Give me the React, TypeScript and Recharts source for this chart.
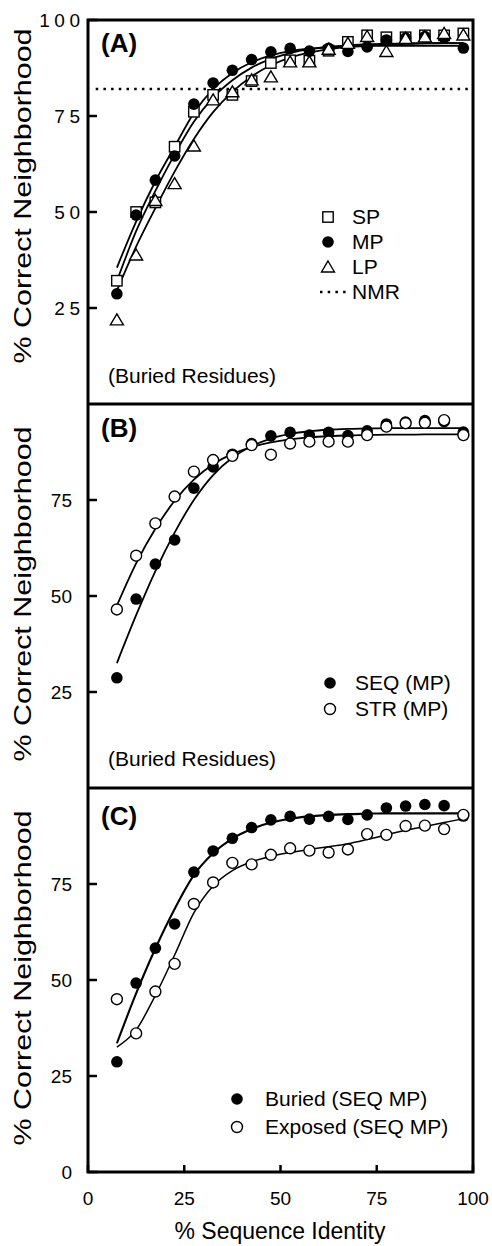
import { ComposedChart, Line, ReferenceArea, ReferenceLine, Scatter, XAxis, YAxis } from 'recharts';

// % sequence identity bins (x of every point)
const identity = [7.5, 12.5, 17.5, 22.5, 27.5, 32.5, 37.5, 42.5, 47.5, 52.5, 57.5, 62.5, 67.5, 72.5, 77.5, 82.5, 87.5, 92.5, 97.5];

// (A) buried residues
const spValues = [32.1, 50.0, 52.5, 67.0, 76.1, 80.5, 80.5, 84.1, 88.8, 89.5, 89.4, 92.0, 94.3, 96.0, 95.5, 95.5, 96.0, 96.0, 96.5];
const mpValues = [28.7, 49.2, 58.3, 64.6, 78.1, 83.6, 86.9, 89.7, 91.7, 92.6, 91.9, 92.6, 91.8, 93.0, 94.8, 95.3, 95.7, 95.4, 92.7];
const lpValues = [21.9, 38.8, 53.0, 57.4, 67.2, 79.2, 81.3, 84.4, 85.2, 89.1, 89.1, 92.4, 93.9, 95.7, 91.8, 95.2, 95.6, 96.5, 96.1];
const nmrLevel = 82;
const spFit = [32, 45, 55.5, 65, 73.5, 79.8, 84.3, 87.6, 89.9, 91.4, 92.4, 93.0, 93.4, 93.7, 93.8, 93.9, 94.0, 94.0, 94.0];
const mpFit = [35.5, 47.5, 58, 67, 75.8, 82, 86.2, 89, 90.8, 91.9, 92.5, 92.9, 93.1, 93.2, 93.3, 93.3, 93.3, 93.3, 93.3];
const lpFit = [29.5, 41, 51, 60.5, 69, 76, 81.3, 85.3, 88.2, 90.2, 91.5, 92.4, 93.0, 93.4, 93.6, 93.8, 93.9, 94.0, 94.0];

// (B) sequence vs structure alignments
const strValues = [46.5, 60.5, 68.9, 75.9, 82.4, 85.4, 86.5, 89.3, 86.8, 89.7, 90.2, 90.2, 90.2, 91.9, 94.1, 95.0, 95.1, 95.8, 91.9];
const seqFit = [32.5, 45, 56.5, 66.5, 75, 81.5, 86, 89, 91, 92.2, 92.9, 93.3, 93.5, 93.6, 93.7, 93.7, 93.7, 93.7, 93.7];
const strFit = [47.5, 58.5, 67.5, 74.8, 80.3, 84.3, 87.0, 88.8, 90.0, 90.8, 91.3, 91.6, 91.8, 91.9, 92.0, 92.0, 92.1, 92.1, 92.1];

// (C) buried vs exposed
const exposedValues = [45.0, 36.1, 47.0, 54.2, 69.8, 75.4, 80.5, 80.1, 82.6, 84.3, 83.7, 83.2, 84.0, 88.0, 87.8, 90.1, 90.2, 89.3, 93.0];
const buriedFit = [33.5, 46.5, 58.2, 68.5, 77.3, 83, 86.8, 89.3, 91, 92, 92.6, 93, 93.2, 93.3, 93.4, 93.4, 93.4, 93.4, 93.4];
const exposedFit = [32.5, 37, 46, 56.5, 67.5, 74.5, 78.5, 80.8, 82.2, 83.2, 84, 84.7, 85.5, 86.6, 87.8, 89, 90, 91, 92];

const xTicks = [0, 25, 50, 75, 100];
const yTicksA = [25, 50, 75, 100];
const yTicksB = [25, 50, 75];
const yTicksC = [0, 25, 50, 75];

const pts = (ys: number[]) => identity.map((x, i) => ({ x, y: ys[i] }));

const FONT = 'Liberation Sans, Arial, sans-serif';

const FilledDot = (p: any) => <circle cx={p.cx} cy={p.cy} r={5.8} fill='#000' />;
const OpenDot = (p: any) => <circle cx={p.cx} cy={p.cy} r={5.5} fill='#fff' stroke='#000' strokeWidth={1.4} />;
const Square = (p: any) => (
  <rect x={p.cx - 5.2} y={p.cy - 5.2} width={10.4} height={10.4} fill='#fff' stroke='#000' strokeWidth={1.4} />
);
const Triangle = (p: any) => (
  <path d={`M${p.cx},${p.cy - 6} L${p.cx + 6.5},${p.cy + 5} L${p.cx - 6.5},${p.cy + 5} Z`} fill='#fff' stroke='#000' strokeWidth={1.4} />
);

const xTick = (labels: boolean) => (p: any) => (
  <g>
    <line x1={p.x} x2={p.x} y1={p.y} y2={p.y - 7} stroke='#000' strokeWidth={2.5} />
    {labels && (
      <text x={p.x} y={p.y + 33} textAnchor='middle' fontSize={19} fill='#000' fontFamily={FONT}>
        {p.payload.value}
      </text>
    )}
  </g>
);

const yTick = (spaced: boolean) => (p: any) => (
  <g>
    <line x1={p.x} x2={p.x + 9} y1={p.y} y2={p.y} stroke='#000' strokeWidth={2.5} />
    <text
      x={spaced ? p.x - 3.5 : p.x - 16}
      y={p.y}
      dy='0.35em'
      textAnchor='end'
      fontSize={19}
      letterSpacing={spaced ? 4.5 : 0}
      fill='#000'
      fontFamily={FONT}
    >
      {p.payload.value}
    </text>
  </g>
);

const axes = (yTicks: number[], spaced: boolean, xLabels: boolean, xHeight: number) => [
  <XAxis
    key='x'
    type='number'
    dataKey='x'
    domain={[0, 100]}
    ticks={xTicks}
    interval={0}
    height={xHeight}
    axisLine={false}
    tickLine={false}
    tickSize={0}
    tickMargin={0}
    tick={xTick(xLabels)}
  />,
  <YAxis
    key='y'
    type='number'
    dataKey='y'
    domain={[0, 100]}
    ticks={yTicks}
    interval={0}
    width={88}
    axisLine={false}
    tickLine={false}
    tickSize={0}
    tickMargin={0}
    tick={yTick(spaced)}
  />,
  <ReferenceArea key='frame' x1={0} x2={100} y1={0} y2={100} fill='none' fillOpacity={0} stroke='#000' strokeWidth={3} />,
];

const fit = (key: string, ys: number[], w = 1.8) => (
  <Line
    key={key}
    data={pts(ys)}
    dataKey='y'
    type='monotone'
    stroke='#000'
    strokeWidth={w}
    dot={false}
    activeDot={false}
    isAnimationActive={false}
  />
);

const yTitle = (cy: number) => (
  <text
    x={31}
    y={cy}
    transform={`rotate(-90, 31, ${cy})`}
    textAnchor='middle'
    fontSize={24}
    textLength={335}
    lengthAdjust='spacingAndGlyphs'
    fill='#000'
    fontFamily={FONT}
  >
    % Correct Neighborhood
  </text>
);

const panelTag = (label: string, y: number) => (
  <text x={101} y={y} fontSize={26} fontWeight='bold' fill='#000' fontFamily={FONT}>
    {label}
  </text>
);

const note = (y: number) => (
  <text x={108} y={y} fontSize={21} fill='#000' fontFamily={FONT}>
    (Buried Residues)
  </text>
);

const legendRow = (marker: any, label: string, mx: number, tx: number, y: number) => (
  <g key={label}>
    {marker({ cx: mx, cy: y })}
    <text x={tx} y={y} dy='0.35em' fontSize={21} fill='#000' fontFamily={FONT}>
      {label}
    </text>
  </g>
);

const App = () => (
  <div style={{ position: 'fixed', left: 0, top: 0, width: 492, height: 1246, background: '#fff', fontFamily: FONT }}>
    <div style={{ position: 'absolute', left: 0, top: 0 }}>
      <ComposedChart width={492} height={404} margin={{ top: 20, right: 19, bottom: 0, left: 0 }} style={{ overflow: 'visible' }}>
        {axes(yTicksA, true, false, 0)}
        <ReferenceLine
          segment={[{ x: 2, y: nmrLevel }, { x: 99, y: nmrLevel }]}
          stroke='#000'
          strokeWidth={2.5}
          strokeDasharray='2.5 5.2'
        />
        {fit('spFit', spFit)}
        {fit('mpFit', mpFit)}
        {fit('lpFit', lpFit)}
        <Scatter data={pts(spValues)} dataKey='y' shape={Square} isAnimationActive={false} />
        <Scatter data={pts(mpValues)} dataKey='y' shape={FilledDot} isAnimationActive={false} />
        <Scatter data={pts(lpValues)} dataKey='y' shape={Triangle} isAnimationActive={false} />
        {yTitle(196)}
        {panelTag('(A)', 52)}
        {note(383)}
        {legendRow(Square, 'SP', 328, 352, 217)}
        {legendRow(FilledDot, 'MP', 328, 352, 242)}
        {legendRow(Triangle, 'LP', 328, 352, 267)}
        <line x1={320} x2={346} y1={292} y2={292} stroke='#000' strokeWidth={2.5} strokeDasharray='2.5 5.2' />
        <text x={352} y={292} dy='0.35em' fontSize={21} fill='#000' fontFamily={FONT}>
          NMR
        </text>
      </ComposedChart>
    </div>

    <div style={{ position: 'absolute', left: 0, top: 404 }}>
      <ComposedChart width={492} height={384} margin={{ top: 0, right: 19, bottom: 0, left: 0 }} style={{ overflow: 'visible' }}>
        {axes(yTicksB, false, false, 0)}
        {fit('seqFit', seqFit)}
        {fit('strFit', strFit)}
        <Scatter data={pts(mpValues)} dataKey='y' shape={FilledDot} isAnimationActive={false} />
        <Scatter data={pts(strValues)} dataKey='y' shape={OpenDot} isAnimationActive={false} />
        {yTitle(190)}
        {panelTag('(B)', 33)}
        {note(362)}
        {legendRow(FilledDot, 'SEQ (MP)', 330, 355, 279)}
        {legendRow(OpenDot, 'STR (MP)', 330, 355, 305)}
      </ComposedChart>
    </div>

    <div style={{ position: 'absolute', left: 0, top: 788 }}>
      <ComposedChart width={492} height={458} margin={{ top: 0, right: 19, bottom: 0, left: 0 }} style={{ overflow: 'visible' }}>
        {axes(yTicksC, false, true, 74)}
        {fit('buriedFit', buriedFit, 2.1)}
        {fit('exposedFit', exposedFit, 1.5)}
        <Scatter data={pts(mpValues)} dataKey='y' shape={FilledDot} isAnimationActive={false} />
        <Scatter data={pts(exposedValues)} dataKey='y' shape={OpenDot} isAnimationActive={false} />
        {yTitle(190)}
        {panelTag('(C)', 37)}
        {legendRow(FilledDot, 'Buried (SEQ MP)', 237, 265, 311)}
        {legendRow(OpenDot, 'Exposed (SEQ MP)', 237, 265, 339)}
        <text x={280} y={451} textAnchor='middle' fontSize={23} fill='#000' fontFamily={FONT}>
          % Sequence Identity
        </text>
      </ComposedChart>
    </div>
  </div>
);

export default App;
